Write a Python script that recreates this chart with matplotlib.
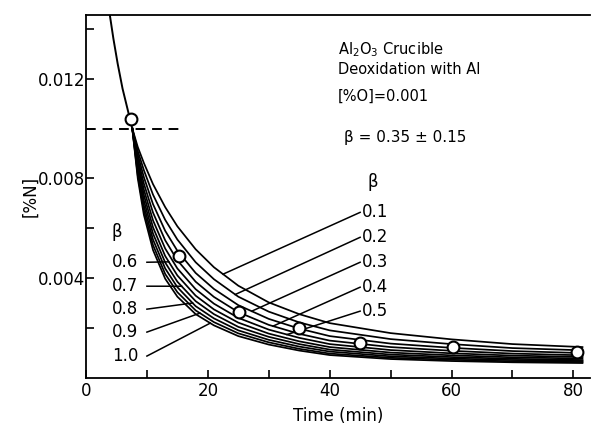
import matplotlib
matplotlib.use("Agg")
import matplotlib.pyplot as plt
import numpy as np

plt.rcParams.update({
    "font.family": "DejaVu Sans", "font.size": 12,
    "axes.linewidth": 1.3, "figure.facecolor": "white",
})

# measured points (circles)
t_meas = [7.4, 15.3, 25.1, 35.0, 44.9, 60.2, 80.6]
n_meas = [0.0104, 0.00488, 0.00264, 0.00202, 0.00140, 0.00123, 0.00105]

# curve before the fan (single line from the top)
t_pre = [3.85, 4.5, 5.2, 6.0, 6.8, 7.6]
n_pre = [0.01465, 0.0136, 0.0126, 0.0116, 0.0108, 0.0100]

# calculated curves, one per beta
t_calc = [7.6, 8.5, 9.5, 11, 13, 15, 18, 21, 25, 30, 35, 40, 50, 60, 70, 81.5]
n_b01 = [0.0100, 0.00926, 0.00862, 0.00777, 0.00685, 0.00608, 0.00516, 0.00444,
         0.00370, 0.00303, 0.00256, 0.00220, 0.00180, 0.00155, 0.00136, 0.00124]
n_b02 = [0.0100, 0.00910, 0.00833, 0.00735, 0.00634, 0.00555, 0.00464, 0.00396,
         0.00326, 0.00266, 0.00223, 0.00191, 0.00156, 0.00136, 0.00120, 0.00111]
n_b03 = [0.0100, 0.00895, 0.00805, 0.00697, 0.00590, 0.00510, 0.00421, 0.00357,
         0.00292, 0.00237, 0.00198, 0.00168, 0.00138, 0.00121, 0.00108, 0.00100]
n_b04 = [0.0100, 0.00880, 0.00779, 0.00663, 0.00552, 0.00472, 0.00386, 0.00325,
         0.00264, 0.00213, 0.00177, 0.00150, 0.00124, 0.00109, 0.00098, 0.00091]
n_b05 = [0.0100, 0.00865, 0.00755, 0.00632, 0.00519, 0.00439, 0.00356, 0.00298,
         0.00241, 0.00194, 0.00161, 0.00136, 0.00112, 0.00099, 0.00090, 0.00084]
n_b06 = [0.0100, 0.00852, 0.00733, 0.00604, 0.00489, 0.00411, 0.00330, 0.00275,
         0.00222, 0.00178, 0.00147, 0.00124, 0.00102, 0.00091, 0.00083, 0.00078]
n_b07 = [0.0100, 0.00838, 0.00711, 0.00579, 0.00463, 0.00386, 0.00308, 0.00256,
         0.00205, 0.00165, 0.00136, 0.00114, 0.00094, 0.00084, 0.00077, 0.00072]
n_b08 = [0.0100, 0.00825, 0.00691, 0.00555, 0.00439, 0.00364, 0.00288, 0.00239,
         0.00191, 0.00153, 0.00126, 0.00106, 0.00087, 0.00078, 0.00072, 0.00068]
n_b09 = [0.0100, 0.00812, 0.00672, 0.00533, 0.00417, 0.00344, 0.00271, 0.00224,
         0.00179, 0.00143, 0.00117, 0.00098, 0.00081, 0.00073, 0.00067, 0.00064]
n_b10 = [0.0100, 0.00800, 0.00654, 0.00513, 0.00398, 0.00326, 0.00256, 0.00211,
         0.00168, 0.00134, 0.00110, 0.00092, 0.00076, 0.00068, 0.00063, 0.00060]
curves = [n_b01, n_b02, n_b03, n_b04, n_b05, n_b06, n_b07, n_b08, n_b09, n_b10]

# beta labels: right group (0.1-0.5) and left group (0.6-1.0)
right_labels = ["0.1", "0.2", "0.3", "0.4", "0.5"]
right_label_y = [0.00664, 0.00564, 0.00464, 0.00364, 0.00268]
right_end_t = [22.5, 24.5, 27.2, 30.7, 33.0]
left_labels = ["0.6", "0.7", "0.8", "0.9", "1.0"]
left_label_y = [0.00464, 0.00368, 0.00276, 0.00184, 0.00088]
left_end_t = [13.6, 15.7, 17.5, 18.7, 20.4]

fig = plt.figure(figsize=(5.91, 4.30), dpi=100)
ax = fig.add_axes([0.1455, 0.1209, 0.8535, 0.8442])

ax.plot(t_pre, n_pre, color="black", lw=1.4, zorder=3)
for n in curves:
    ax.plot(t_calc, n, color="black", lw=1.25, zorder=3)

ax.plot([0, 15.8], [0.010, 0.010], color="black", lw=1.4, ls=(0, (5, 3.5)))

# leader lines
for lab, y, te, n in zip(right_labels, right_label_y, right_end_t, curves[:5]):
    ax.plot([45.0, te], [y, np.interp(te, t_calc, n)], color="black", lw=1.1, zorder=2)
    ax.text(45.3, y, lab, ha="left", va="center", fontsize=12)
for lab, y, te, n in zip(left_labels, left_label_y, left_end_t, curves[5:]):
    ax.plot([10.0, te], [y, np.interp(te, t_calc, n)], color="black", lw=1.1, zorder=2)
    ax.text(8.6, y, lab, ha="right", va="center", fontsize=12)
ax.text(47.1, 0.00784, "β", ha="center", va="center", fontsize=12)
ax.text(5.0, 0.00584, "β", ha="center", va="center", fontsize=12)

ax.plot(t_meas, n_meas, "o", ms=8.5, mfc="white", mec="black", mew=1.5, zorder=5)

ax.text(41.4, 0.01316, "Al$_2$O$_3$ Crucible", ha="left", va="center", fontsize=10.5)
ax.text(41.4, 0.01236, "Deoxidation with Al", ha="left", va="center", fontsize=10.5)
ax.text(41.4, 0.01128, "[%O]=0.001", ha="left", va="center", fontsize=10.5)
ax.text(42.3, 0.00964, "β = 0.35 ± 0.15", ha="left", va="center", fontsize=11)

ax.set_xlim(0, 82.8)
ax.set_ylim(0, 0.01455)
ax.set_xticks([0, 20, 40, 60, 80])
ax.set_xticks([10, 30, 50, 70], minor=True)
ax.set_yticks([0.004, 0.008, 0.012])
ax.set_yticklabels(["0.004", "0.008", "0.012"])
ax.set_yticks([0.002, 0.006, 0.010, 0.014], minor=True)
ax.tick_params(which="both", direction="in", length=6, width=1.2)
ax.tick_params(axis="y", pad=0.5)
ax.tick_params(axis="x", pad=3)
ax.spines["right"].set_visible(False)

ax.set_xlabel("Time (min)", fontsize=12, labelpad=5)
ax.set_ylabel("[%N]", fontsize=12, labelpad=-1)

fig.savefig("out.png", dpi=100)
